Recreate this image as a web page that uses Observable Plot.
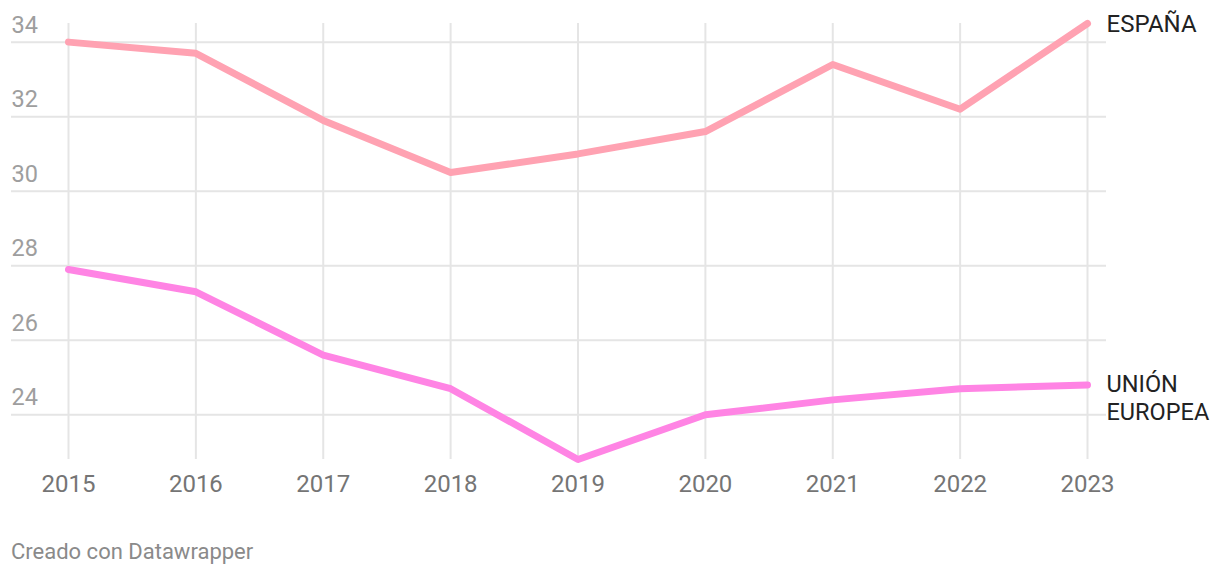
<!DOCTYPE html>
<html>
<head>
<meta charset="utf-8">
<script src="https://cdn.jsdelivr.net/npm/d3@7"></script>
<script src="https://cdn.jsdelivr.net/npm/@observablehq/plot@0.6"></script>
<style>
  html, body { margin: 0; padding: 0; background: #fff; }
  body { width: 1220px; height: 576px; overflow: hidden; font-family: Roboto, "Noto Sans", sans-serif; }
  #caption { position: absolute; left: 11px; top: 539px; font-size: 22px; color: #8a8a8a; font-family: Roboto, sans-serif; }
</style>
</head>
<body>
<div id="chart"></div>
<div id="caption">Creado con Datawrapper</div>
<script>
const years = [2015, 2016, 2017, 2018, 2019, 2020, 2021, 2022, 2023];
const espana = [34.0, 33.7, 31.9, 30.5, 31.0, 31.6, 33.4, 32.2, 34.5];
const ue = [27.9, 27.3, 25.6, 24.7, 22.8, 24.0, 24.4, 24.7, 24.8];
const seriesNames = ["ESPAÑA", "UNIÓN\nEUROPEA"];
const seriesColors = ["#ffa2b2", "#ff84e4"];
const yTicks = [24, 26, 28, 30, 32, 34];
const xTicks = years;

const rows = [
  ...years.map((y, i) => ({year: y, value: espana[i], series: seriesNames[0]})),
  ...years.map((y, i) => ({year: y, value: ue[i], series: seriesNames[1]}))
];
const lastEs = [{year: years[years.length - 1], value: espana[espana.length - 1], series: seriesNames[0]}];
const lastUe = [{year: years[years.length - 1], value: ue[ue.length - 1], series: seriesNames[1]}];

const chart = Plot.plot({
  width: 1220,
  height: 515,
  marginTop: 23,
  marginBottom: 56,
  marginLeft: 11,
  marginRight: 114,
  style: {fontFamily: "Roboto, sans-serif", background: "#fff", overflow: "visible"},
  x: {domain: [2015, 2023], range: [68, 1087], axis: null},
  y: {domain: [22.8, 34.5], axis: null},
  color: {domain: seriesNames, range: seriesColors},
  marks: [
    Plot.ruleY(yTicks, {stroke: "#e5e5e5", strokeWidth: 2}),
    Plot.ruleX(xTicks, {stroke: "#e5e5e5", strokeWidth: 2}),
    Plot.text(yTicks, {y: d => d, text: d => String(d), frameAnchor: "left", textAnchor: "start", dy: -17, fill: "#9e9e9e", fontSize: 23.5}),
    Plot.axisX({ticks: xTicks, tickFormat: d => String(d), tickSize: 0, tickPadding: 15, fontSize: 24, color: "#757575", anchor: "bottom", label: null}),
    Plot.line(rows, {x: "year", y: "value", z: "series", stroke: "series", strokeWidth: 7, strokeLinecap: "round", strokeLinejoin: "round"}),
    Plot.text(lastEs, {x: "year", y: "value", text: "series", textAnchor: "start", dx: 19, dy: 1, fill: "#222", fontSize: 24}),
    Plot.text(lastUe, {x: "year", y: "value", text: "series", textAnchor: "start", dx: 19, dy: 12, lineHeight: 1.17, fill: "#222", fontSize: 23.5})
  ]
});
document.getElementById("chart").appendChild(chart);
</script>
</body>
</html>
